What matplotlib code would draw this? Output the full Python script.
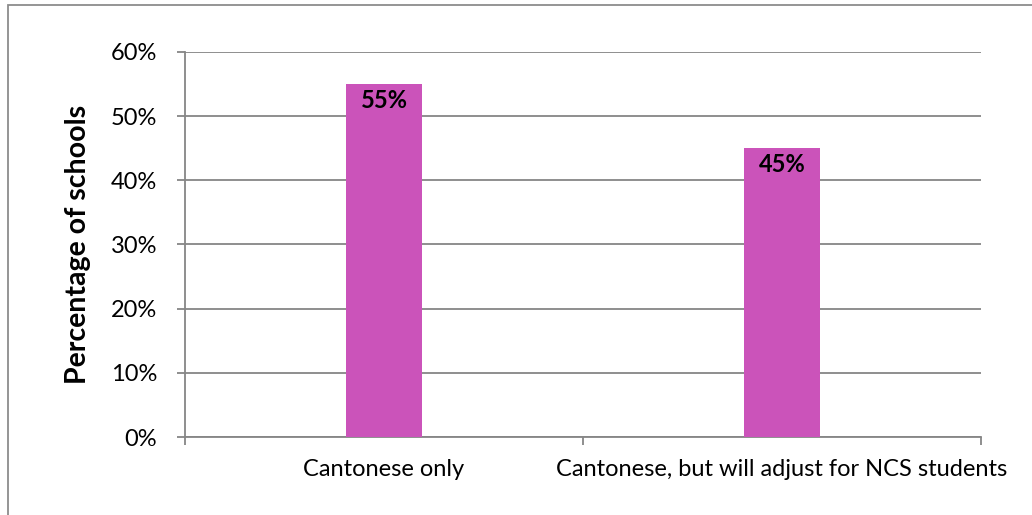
import matplotlib
matplotlib.use('Agg')
import matplotlib.pyplot as plt
from matplotlib.patches import Rectangle
from matplotlib.ticker import FuncFormatter

categories = ['Cantonese only', 'Cantonese, but will adjust for NCS students']
shares = [0.55, 0.45]
bar_labels = ['55%', '45%']
y_ticks = [0, 0.1, 0.2, 0.3, 0.4, 0.5, 0.6]

BAR_COL = '#CB53BA'
GRID_COL = '#868686'
plt.rcParams['font.family'] = ['Lato', 'DejaVu Sans']

fig = plt.figure(figsize=(10.32, 5.15), dpi=100)
W, H = 1032, 515
ax = fig.add_axes([185 / W, 1 - 437 / H, (981 - 185) / W, (437 - 52) / H])

# outer chart border (cut off at right and bottom in the reference)
fig.patches.append(Rectangle((8 / W, -0.1), 1.2, 1 - 5 / H + 0.1, transform=fig.transFigure,
                             fill=False, ec='#8c8c8c', lw=1.3))

x = list(range(len(categories)))
bars = ax.bar(x, shares, width=0.19, color=BAR_COL, zorder=3)
for b, lab in zip(bars, bar_labels):
    ax.annotate(lab, (b.get_x() + b.get_width() / 2, b.get_height()), xytext=(0, -12),
                textcoords='offset points', ha='center', va='center', fontsize=17,
                fontweight='bold', zorder=4)

ax.set_xlim(-0.5, 1.5)
ax.set_ylim(0, 0.6)
ax.set_yticks(y_ticks)
ax.yaxis.set_major_formatter(FuncFormatter(lambda v, p: f'{v * 100:.0f}%'))
ax.set_xticks([-0.5, 0.5, 1.5])
ax.set_xticklabels([])
ax.set_xticks(x, minor=True)
ax.set_xticklabels(categories, minor=True, fontsize=17)
ax.tick_params(axis='x', which='minor', length=0, pad=16)
ax.tick_params(axis='x', which='major', length=6, width=1.3, color=GRID_COL, direction='out')
ax.tick_params(axis='y', length=6, width=1.3, color=GRID_COL, direction='out', labelsize=17, pad=14)
ax.grid(axis='y', color=GRID_COL, lw=1.3, zorder=0)
for s in ['top', 'right']:
    ax.spines[s].set_visible(False)
for s in ['left', 'bottom']:
    ax.spines[s].set_color(GRID_COL)
    ax.spines[s].set_linewidth(1.3)
ax.set_ylabel('Percentage of schools', fontsize=20.5, fontweight='bold', labelpad=14)

fig.savefig('out.png', dpi=100)
